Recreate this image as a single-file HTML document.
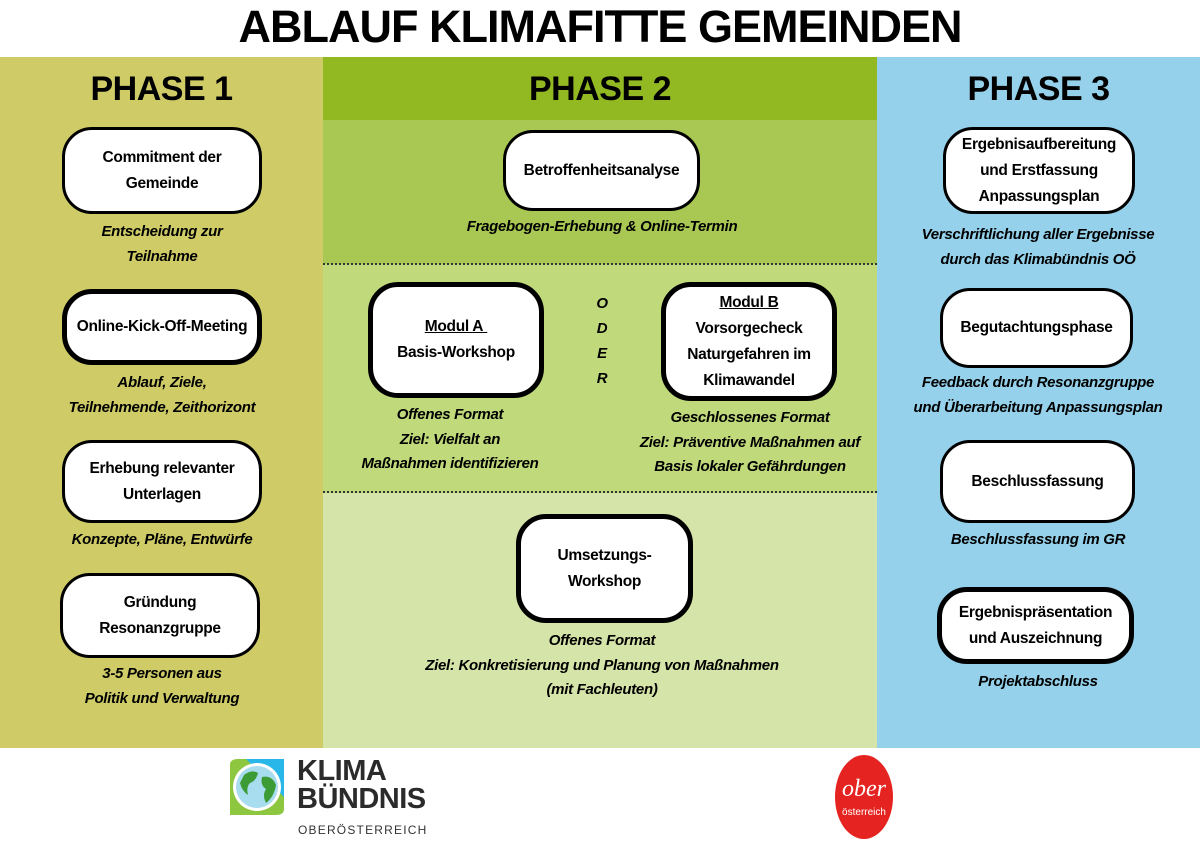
<!DOCTYPE html>
<html><head><meta charset="utf-8"><style>
*{margin:0;padding:0;box-sizing:border-box}
body{width:1200px;height:849px;position:relative;background:#fff;font-family:"Liberation Sans",Arial,sans-serif;overflow:hidden;color:#000}
.a{position:absolute}
.box{position:absolute;background:#fff;border:3px solid #000;border-radius:30px;display:flex;align-items:center;justify-content:center;text-align:center;font-weight:bold;font-size:15.5px;line-height:26px;letter-spacing:-0.3px}
.thick{border-width:5px}
.cap{position:absolute;text-align:center;font-weight:bold;font-style:italic;font-size:15px;line-height:24.5px;letter-spacing:-0.3px}
.ph{position:absolute;font-weight:bold;font-size:34px;text-align:center;letter-spacing:-0.5px}
.dot{position:absolute;left:323px;width:554px;border-top:2px dotted #333}
</style></head><body>
<div class="a" style="left:0;top:0;width:1200px;text-align:center;font-weight:bold;font-size:45px;line-height:54px;letter-spacing:-1px">ABLAUF KLIMAFITTE GEMEINDEN</div>
<div class="a" style="left:0;top:57px;width:323px;height:691px;background:#cfcc67"></div>
<div class="a" style="left:323px;top:57px;width:554px;height:63px;background:#93b922"></div>
<div class="a" style="left:323px;top:120px;width:554px;height:144px;background:#a9c853"></div>
<div class="a" style="left:323px;top:264px;width:554px;height:229px;background:#bfd97b"></div>
<div class="a" style="left:323px;top:493px;width:554px;height:255px;background:#d5e4a8"></div>
<div class="a" style="left:877px;top:57px;width:323px;height:691px;background:#95d1eb"></div>
<div class="dot" style="top:263px"></div>
<div class="dot" style="top:491px"></div>

<div class="ph" style="left:0;width:323px;top:70px">PHASE 1</div>
<div class="ph" style="left:323px;width:554px;top:70px">PHASE 2</div>
<div class="ph" style="left:877px;width:323px;top:70px">PHASE 3</div>

<div class="box" style="left:62px;top:127px;width:200px;height:87px">Commitment der<br>Gemeinde</div>
<div class="cap" style="left:12px;width:300px;top:220px">Entscheidung zur<br>Teilnahme</div>
<div class="box thick" style="left:62px;top:289px;width:200px;height:76px">Online-Kick-Off-Meeting</div>
<div class="cap" style="left:12px;width:300px;top:371px">Ablauf, Ziele,<br>Teilnehmende, Zeithorizont</div>
<div class="box" style="left:62px;top:440px;width:200px;height:83px">Erhebung relevanter<br>Unterlagen</div>
<div class="cap" style="left:12px;width:300px;top:528px">Konzepte, Pläne, Entwürfe</div>
<div class="box" style="left:60px;top:573px;width:200px;height:85px">Gründung<br>Resonanzgruppe</div>
<div class="cap" style="left:12px;width:300px;top:662px">3-5 Personen aus<br>Politik und Verwaltung</div>

<div class="box" style="left:503px;top:130px;width:197px;height:81px">Betroffenheitsanalyse</div>
<div class="cap" style="left:402px;width:400px;top:215px">Fragebogen-Erhebung &amp; Online-Termin</div>
<div class="box thick" style="left:368px;top:282px;width:176px;height:116px"><div><u>Modul A&nbsp;</u><br>Basis-Workshop</div></div>
<div class="cap" style="left:590px;width:24px;top:291px;line-height:25px">O<br>D<br>E<br>R</div>
<div class="box thick" style="left:661px;top:282px;width:176px;height:119px"><div><u>Modul B</u><br>Vorsorgecheck<br>Naturgefahren im<br>Klimawandel</div></div>
<div class="cap" style="left:330px;width:240px;top:403px">Offenes Format<br>Ziel: Vielfalt an<br>Maßnahmen identifizieren</div>
<div class="cap" style="left:610px;width:280px;top:406px">Geschlossenes Format<br>Ziel: Präventive Maßnahmen auf<br>Basis lokaler Gefährdungen</div>
<div class="box thick" style="left:516px;top:514px;width:177px;height:109px">Umsetzungs-<br>Workshop</div>
<div class="cap" style="left:352px;width:500px;top:629px">Offenes Format<br>Ziel: Konkretisierung und Planung von Maßnahmen<br><span style="font-style:italic">(mit Fachleuten)</span></div>

<div class="box" style="left:943px;top:127px;width:192px;height:87px">Ergebnisaufbereitung<br>und Erstfassung<br>Anpassungsplan</div>
<div class="cap" style="left:878px;width:320px;top:223px">Verschriftlichung aller Ergebnisse<br>durch das Klimabündnis OÖ</div>
<div class="box" style="left:940px;top:288px;width:193px;height:80px">Begutachtungsphase</div>
<div class="cap" style="left:878px;width:320px;top:371px">Feedback durch Resonanzgruppe<br>und Überarbeitung Anpassungsplan</div>
<div class="box" style="left:940px;top:440px;width:195px;height:83px">Beschlussfassung</div>
<div class="cap" style="left:878px;width:320px;top:528px">Beschlussfassung im GR</div>
<div class="box thick" style="left:937px;top:587px;width:197px;height:77px">Ergebnispräsentation<br>und Auszeichnung</div>
<div class="cap" style="left:878px;width:320px;top:670px">Projektabschluss</div>

<!-- logos -->
<svg class="a" style="left:226px;top:757px" width="60" height="60" viewBox="0 0 60 60">
<path d="M4 8 Q4 2 12 2 L58 2 L58 52 Q58 58 50 58 L4 58 Z" fill="#8dc63f"/>
<path d="M20 2 L58 2 L58 40 Z" fill="#29b6e8"/>
<circle cx="31" cy="30" r="24" fill="#fff"/>
<circle cx="31" cy="30" r="21" fill="#a8dcef"/>
<path d="M18 18 Q26 12 32 16 Q30 24 24 26 Q20 30 22 38 Q16 34 14 26Z" fill="#3d9b35"/>
<path d="M36 20 Q46 18 50 28 Q48 40 40 46 Q36 38 40 32 Q34 28 36 20Z" fill="#3d9b35"/>
</svg>
<div class="a" style="left:297px;top:757px;font-weight:bold;font-size:29px;line-height:28px;color:#2b2b2b;letter-spacing:-0.5px">KLIMA<br>BÜNDNIS</div>
<div class="a" style="left:298px;top:823px;font-size:12px;color:#333;letter-spacing:1.2px">OBERÖSTERREICH</div>
<div class="a" style="left:835px;top:755px;width:58px;height:84px;border-radius:50%;background:#e52421;color:#fff;text-align:center">
<div style="font-family:'Liberation Serif',serif;font-style:italic;font-size:24px;margin-top:22px;line-height:24px">ober</div>
<div style="font-size:10px;margin-top:6px">österreich</div></div>
</body></html>
